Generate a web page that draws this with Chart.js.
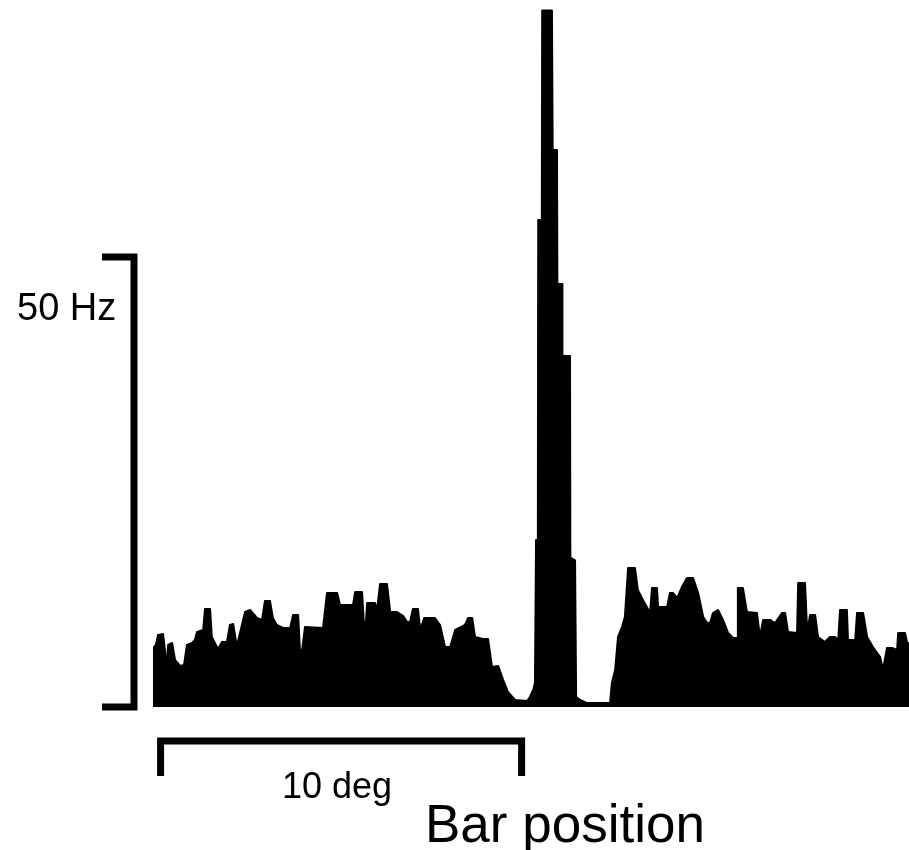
<!DOCTYPE html>
<html>
<head>
<meta charset="utf-8">
<title>Bar position response</title>
<script src="https://cdn.jsdelivr.net/npm/chart.js@4"></script>
<style>
  html, body { margin: 0; padding: 0; background: #fff; }
  #wrap { width: 909px; height: 850px; }
</style>
</head>
<body>
<div id="wrap"><canvas id="psth" width="909" height="850"></canvas></div>
<script>
// bar position (deg from left edge of the plot) and firing rate (Hz)
var barPos = [
  0.00, 0.08, 0.14, 0.28, 0.33, 0.36, 0.42, 0.53, 0.61, 0.75, 0.86, 0.94, 1.08, 1.16, 1.22, 1.39,
  1.44, 1.58, 1.63, 1.80, 1.91, 2.05, 2.13, 2.22, 2.30, 2.35, 2.55, 2.69, 2.88, 3.02, 3.10, 3.24,
  3.32, 3.43, 3.60, 3.80, 3.88, 4.02, 4.07, 4.13, 4.21, 4.71, 4.82, 5.10, 5.18, 5.54, 5.60, 5.79,
  5.84, 5.90, 5.93, 6.15, 6.20, 6.29, 6.48, 6.57, 6.76, 6.93, 7.04, 7.12, 7.20, 7.34, 7.40, 7.51,
  7.81, 7.95, 8.09, 8.23, 8.37, 8.64, 8.73, 8.84, 8.92, 9.14, 9.28, 9.39, 9.56, 9.70, 9.83, 10.03,
  10.36, 10.44, 10.53, 10.58, 10.61, 10.66, 10.67, 10.77, 10.78, 11.05, 11.07, 11.19, 11.20, 11.33,
  11.34, 11.55, 11.56, 11.69, 11.72, 11.83, 12.02, 12.66, 12.71, 12.80, 12.88, 12.99, 13.07, 13.16,
  13.35, 13.43, 13.57, 13.77, 13.82, 13.96, 13.99, 14.24, 14.32, 14.40, 14.52, 14.65, 14.79, 14.96,
  15.10, 15.24, 15.35, 15.43, 15.51, 15.65, 15.79, 15.93, 16.07, 16.18, 16.20, 16.34, 16.45, 16.73,
  16.81, 16.90, 17.09, 17.23, 17.42, 17.51, 17.59, 17.84, 17.87, 18.06, 18.12, 18.20, 18.34, 18.42,
  18.61, 18.75, 18.89, 18.98, 19.03, 19.22, 19.25, 19.45, 19.50, 19.67, 19.78, 19.94, 20.14, 20.22,
  20.33, 20.47, 20.61, 20.64, 20.83, 20.89, 20.94
];
var rateHz = [
  6.56, 6.89, 8.00, 8.11, 6.33, 4.11, 6.89, 7.11, 5.22, 4.56, 4.67, 6.89, 7.11, 7.44, 8.33, 8.56,
  10.89, 10.89, 7.78, 6.44, 7.22, 7.22, 9.11, 9.22, 7.22, 7.22, 10.56, 10.78, 9.89, 9.67, 11.78, 11.78,
  9.89, 9.11, 8.78, 8.78, 10.22, 10.22, 6.33, 6.33, 8.89, 8.78, 12.67, 12.67, 11.33, 11.33, 12.78, 12.78,
  9.44, 9.44, 11.56, 11.56, 10.56, 13.67, 13.67, 10.56, 10.56, 10.11, 9.44, 9.44, 10.89, 10.89, 8.56, 9.89,
  9.89, 9.11, 6.67, 6.67, 8.56, 9.11, 9.89, 9.89, 7.78, 7.56, 7.56, 4.44, 4.56, 3.00, 1.67, 0.78,
  0.67, 1.11, 1.89, 2.67, 18.56, 18.56, 54.11, 54.11, 77.4, 77.4, 61.9, 61.9, 47.0, 47.0,
  39.0, 39.0, 16.6, 16.3, 1.11, 0.78, 0.44, 0.44, 2.67, 4.11, 7.78, 8.89, 10.00, 15.44,
  15.44, 13.00, 11.89, 10.44, 13.22, 13.22, 11.11, 11.11, 12.67, 12.67, 12.11, 13.33, 14.33, 14.33,
  12.67, 10.00, 9.33, 9.33, 10.44, 10.78, 9.67, 8.22, 7.67, 7.67, 13.22, 13.22, 10.56, 10.44,
  7.78, 9.67, 9.67, 9.33, 10.44, 10.44, 8.33, 8.22, 13.78, 13.78, 8.33, 10.22, 10.22, 7.78,
  7.22, 7.78, 7.78, 7.44, 10.78, 10.78, 7.44, 7.44, 10.44, 10.44, 7.78, 6.67, 5.56, 4.11,
  6.56, 6.56, 6.33, 8.22, 8.22, 7.11, 7.11
];

// scale bars
var rateBar = [0, 50];        // Hz
var posBar = [0.21, 10.21];   // deg

var points = barPos.map(function(d, i) { return {x: d, y: rateHz[i]}; });

var scaleBars = {
  id: 'scaleBars',
  afterDraw: function(chart) {
    var ctx = chart.ctx;
    var xs = chart.scales.x, ys = chart.scales.y;
    var yTop = ys.getPixelForValue(rateBar[1]);
    var yBot = ys.getPixelForValue(rateBar[0]);
    var xL = xs.getPixelForValue(posBar[0]);
    var xR = xs.getPixelForValue(posBar[1]);
    ctx.save();
    ctx.strokeStyle = '#000';
    ctx.lineWidth = 7;
    ctx.lineJoin = 'miter';
    // 50 Hz bracket
    ctx.beginPath();
    ctx.moveTo(102, yTop);
    ctx.lineTo(134, yTop);
    ctx.lineTo(134, yBot);
    ctx.lineTo(102, yBot);
    ctx.stroke();
    // 10 deg bracket
    ctx.beginPath();
    ctx.moveTo(xL, 776);
    ctx.lineTo(xL, 741);
    ctx.lineTo(xR, 741);
    ctx.lineTo(xR, 776);
    ctx.stroke();
    // labels
    ctx.fillStyle = '#000';
    ctx.textBaseline = 'alphabetic';
    ctx.font = '38px "Liberation Sans", Arial, sans-serif';
    ctx.fillText('50 Hz', 17, 320);
    ctx.font = '36px "Liberation Sans", Arial, sans-serif';
    ctx.fillText('10 deg', 282, 798);
    ctx.font = '53px "Liberation Sans", Arial, sans-serif';
    ctx.fillText('Bar position', 425, 842);
    ctx.restore();
  }
};

Chart.defaults.font.family = '"Liberation Sans", Arial, sans-serif';
var chart = new Chart('psth', {
  type: 'line',
  data: {
    datasets: [{
      label: 'rate',
      data: points,
      borderColor: '#000',
      backgroundColor: '#000',
      borderWidth: 2,
      borderJoinStyle: 'round',
      fill: 'origin',
      pointRadius: 0,
      tension: 0
    }]
  },
  options: {
    responsive: false,
    animation: false,
    layout: { padding: { left: 153, right: 0, top: 0, bottom: 143 } },
    plugins: { legend: { display: false }, tooltip: { enabled: false } },
    scales: {
      x: { type: 'linear', min: 0, max: 20.94, display: false },
      y: { min: 0, max: 78.56, display: false }
    }
  },
  plugins: [scaleBars]
});
</script>
</body>
</html>
